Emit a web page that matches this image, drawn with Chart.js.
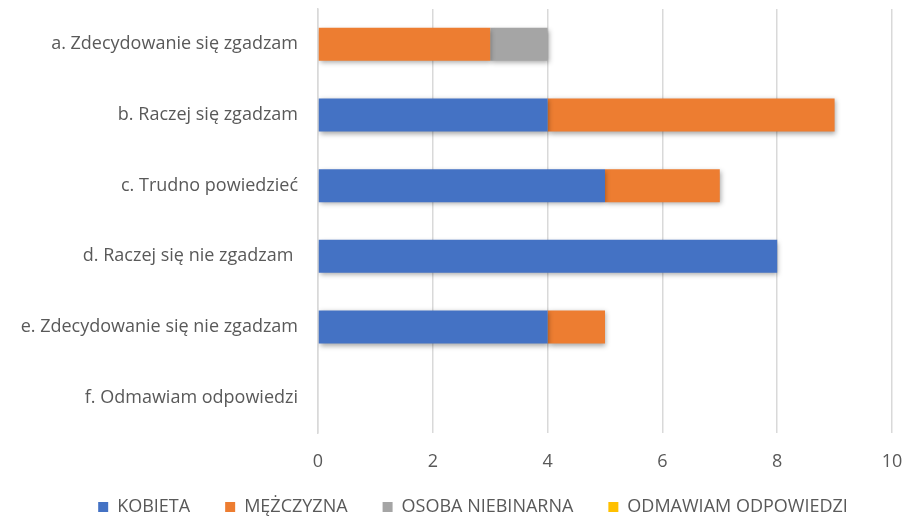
<!DOCTYPE html>
<html>
<head>
<meta charset="utf-8">
<script src="https://cdn.jsdelivr.net/npm/chart.js@4"></script>
<style>
html,body{margin:0;padding:0;background:#fff;}
#wrap{width:911px;height:518px;}
</style>
</head>
<body>
<div id="wrap"><canvas id="c" width="911" height="518"></canvas></div>
<script>
const categories = [
  "a. Zdecydowanie się zgadzam",
  "b. Raczej się zgadzam",
  "c. Trudno powiedzieć",
  "d. Raczej się nie zgadzam ",
  "e. Zdecydowanie się nie zgadzam",
  "f. Odmawiam odpowiedzi"
];
const seriesNames = ["KOBIETA", "MĘŻCZYZNA", "OSOBA NIEBINARNA", "ODMAWIAM ODPOWIEDZI"];
const kobieta = [0, 4, 5, 8, 4, 0];
const mezczyzna = [3, 5, 2, 0, 1, 0];
const niebinarna = [1, 0, 0, 0, 0, 0];
const odmawiam = [0, 0, 0, 0, 0, 0];
const xTicks = [0, 2, 4, 6, 8, 10];
const colors = ["#4472C4", "#ED7D31", "#A5A5A5", "#FFC000"];

const FONT = "'Open Sans', sans-serif";
const LEGEND_HEIGHT = 40;
const LEGEND_UP = 15;
const LEGEND_SHIFT = 27;

const shadowPlugin = {
  id: 'shadow',
  beforeDatasetsDraw(chart) {
    const ctx = chart.ctx;
    ctx.save();
    ctx.shadowColor = 'rgba(0,0,0,0.35)';
    ctx.shadowBlur = 5;
    ctx.shadowOffsetX = 1;
    ctx.shadowOffsetY = 2;
  },
  afterDatasetsDraw(chart) {
    chart.ctx.restore();
  }
};

const legendFitPlugin = {
  id: 'legendFit',
  beforeUpdate(chart) {
    const lg = chart.legend;
    if (lg && !lg._patched) {
      const orig = lg.fit;
      lg.fit = function () { orig.call(this); this.height = LEGEND_HEIGHT; };
      lg._patched = true;
    }
  },
  afterLayout(chart) {
    const lg = chart.legend;
    if (lg) {
      lg.left += LEGEND_SHIFT; lg.right += LEGEND_SHIFT;
      lg.top -= LEGEND_UP;
    }
  }
};

const allData = [kobieta, mezczyzna, niebinarna, odmawiam];
new Chart(document.getElementById('c'), {
  type: 'bar',
  data: {
    labels: categories,
    datasets: seriesNames.map((n, i) => ({
      label: n,
      data: allData[i],
      backgroundColor: colors[i],
      borderWidth: 0,
      barPercentage: 0.467,
      categoryPercentage: 1.0
    }))
  },
  options: {
    indexAxis: 'y',
    responsive: false,
    animation: false,
    layout: { padding: { top: 9, right: 19, left: 0, bottom: 0 } },
    plugins: {
      legend: {
        position: 'bottom',
        labels: {
          boxWidth: 10,
          boxHeight: 10,
          padding: 35,
          color: '#595959',
          font: { family: FONT, size: 18 }
        }
      },
      tooltip: { enabled: false }
    },
    scales: {
      x: {
        stacked: true,
        min: 0,
        max: 10,
        afterBuildTicks(scale) { scale.ticks = xTicks.map(v => ({ value: v })); },
        afterFit(scale) { scale.height = 45; scale.paddingLeft = 0; scale.paddingRight = 0; },
        grid: { color: '#D9D9D9', lineWidth: 1.5, drawTicks: false },
        border: { display: false },
        ticks: { color: '#595959', padding: 18, font: { family: FONT, size: 18 } }
      },
      y: {
        stacked: true,
        afterFit(scale) { scale.width = 318; scale.paddingTop = 0; scale.paddingBottom = 0; },
        grid: { display: false, drawTicks: false },
        border: { color: '#D9D9D9', width: 1.5 },
        ticks: { color: '#595959', padding: 20, font: { family: FONT, size: 18 } }
      }
    }
  },
  plugins: [shadowPlugin, legendFitPlugin]
});
</script>
</body>
</html>
